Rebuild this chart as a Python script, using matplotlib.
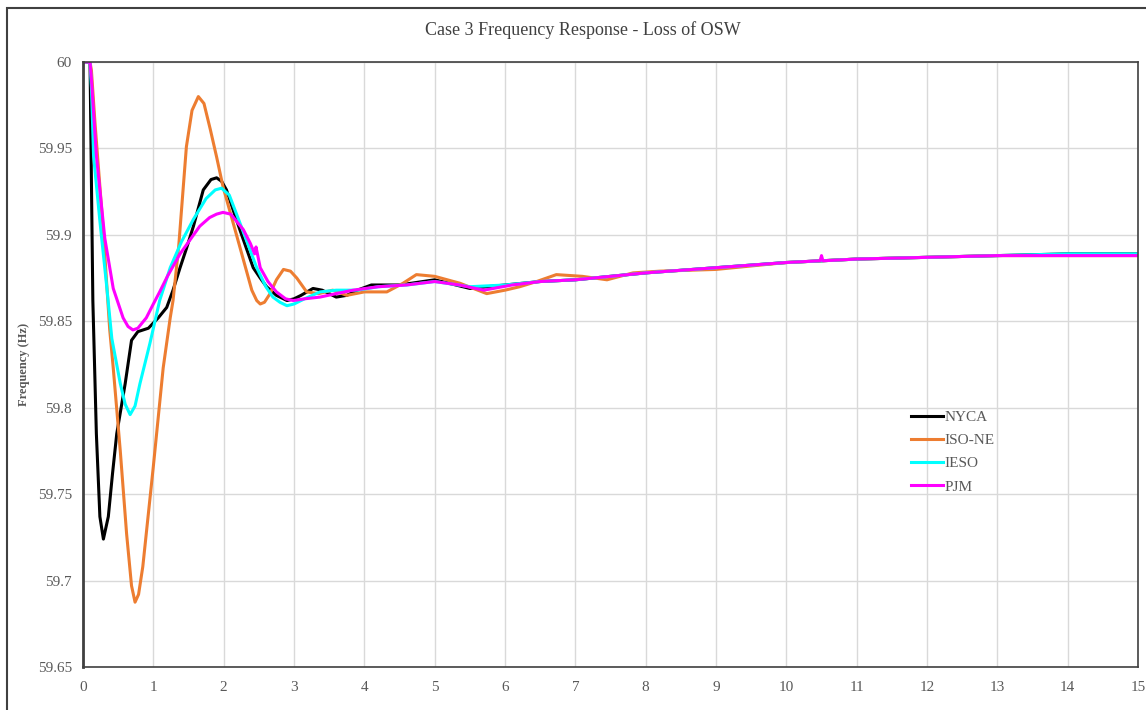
import numpy as np
import matplotlib
matplotlib.use("Agg")
import matplotlib.pyplot as plt
from matplotlib.patches import Rectangle

plt.rcParams['font.family'] = ['Liberation Serif', 'DejaVu Serif']

# values (time in s, frequency in Hz)
t_nyca = [0, 0.1, 0.12, 0.14, 0.19, 0.24, 0.29, 0.36, 0.42, 0.48, 0.6, 0.69, 0.78, 0.93, 1.07, 1.19,
          1.28, 1.38, 1.47, 1.57, 1.71, 1.82, 1.9, 1.97, 2.04, 2.13, 2.23, 2.42, 2.52, 2.61, 2.75, 2.9,
          3.0, 3.1, 3.27, 3.4, 3.6, 3.75, 3.9, 4.1, 4.5, 5.0, 5.5, 6.0, 6.5, 7.0, 8.0, 9.0, 10.0, 11.0,
          12.0, 13.0, 14.0, 15.0]
f_nyca = [60, 60, 59.93, 59.862, 59.785, 59.737, 59.724, 59.737, 59.762, 59.785, 59.814, 59.839,
          59.844, 59.846, 59.852, 59.858, 59.868, 59.881, 59.892, 59.905, 59.926, 59.932, 59.933,
          59.931, 59.926, 59.915, 59.903, 59.881, 59.875, 59.87, 59.865, 59.862, 59.863, 59.865,
          59.869, 59.868, 59.864, 59.865, 59.868, 59.871, 59.871, 59.874, 59.869, 59.871, 59.873,
          59.874, 59.878, 59.881, 59.884, 59.886, 59.887, 59.888, 59.889, 59.889]

t_isone = [0, 0.1, 0.12, 0.17, 0.28, 0.38, 0.43, 0.53, 0.62, 0.69, 0.74, 0.79, 0.85, 1.0, 1.14, 1.24,
           1.28, 1.36, 1.47, 1.55, 1.64, 1.72, 1.81, 1.9, 1.99, 2.1, 2.23, 2.4, 2.47, 2.52, 2.58, 2.66,
           2.75, 2.85, 2.95, 3.04, 3.18, 3.35, 3.55, 3.75, 4.0, 4.32, 4.55, 4.74, 5.0, 5.36, 5.74, 6.0,
           6.21, 6.45, 6.73, 7.1, 7.45, 7.82, 8.2, 9.0, 10.0, 11.0, 12.0, 13.0, 14.0, 15.0]
f_isone = [60, 60, 59.995, 59.965, 59.907, 59.845, 59.823, 59.775, 59.727, 59.697, 59.6875, 59.692,
           59.708, 59.766, 59.823, 59.852, 59.862, 59.893, 59.951, 59.972, 59.98, 59.976, 59.961,
           59.945, 59.928, 59.912, 59.893, 59.868, 59.862, 59.86, 59.861, 59.866, 59.874, 59.88,
           59.879, 59.875, 59.867, 59.866, 59.868, 59.865, 59.867, 59.867, 59.872, 59.877, 59.876,
           59.872, 59.866, 59.868, 59.87, 59.873, 59.877, 59.876, 59.874, 59.878, 59.879, 59.88,
           59.884, 59.886, 59.887, 59.888, 59.888, 59.888]

t_ieso = [0, 0.1, 0.12, 0.15, 0.24, 0.34, 0.41, 0.53, 0.6, 0.67, 0.74, 0.81, 0.95, 1.09, 1.24, 1.4,
          1.57, 1.75, 1.88, 1.97, 2.08, 2.23, 2.35, 2.47, 2.6, 2.7, 2.8, 2.9, 3.0, 3.15, 3.37, 3.6,
          3.9, 4.2, 4.6, 5.0, 5.5, 6.0, 6.5, 7.0, 8.0, 9.0, 10.0, 11.0, 12.0, 13.0, 14.0, 15.0]
f_ieso = [60, 60, 59.985, 59.946, 59.908, 59.869, 59.84, 59.814, 59.802, 59.796, 59.801, 59.814,
          59.837, 59.862, 59.881, 59.896, 59.909, 59.921, 59.926, 59.927, 59.923, 59.907, 59.894,
          59.881, 59.87, 59.864, 59.861, 59.859, 59.86, 59.863, 59.867, 59.868, 59.868, 59.87,
          59.871, 59.873, 59.87, 59.871, 59.873, 59.874, 59.878, 59.881, 59.884, 59.886, 59.887,
          59.888, 59.889, 59.889]

t_pjm = [0, 0.1, 0.12, 0.19, 0.31, 0.43, 0.57, 0.64, 0.71, 0.78, 0.9, 1.0, 1.09, 1.2, 1.38, 1.52,
         1.66, 1.8, 1.9, 1.99, 2.1, 2.28, 2.38, 2.44, 2.46, 2.52, 2.63, 2.75, 2.88, 2.99, 3.15, 3.37,
         3.6, 3.84, 4.2, 4.6, 5.0, 5.35, 5.7, 6.1, 6.5, 7.0, 8.0, 9.0, 10.0, 10.48, 10.5, 10.52, 11.0,
         12.0, 13.0, 14.0, 15.0]
f_pjm = [60, 60, 59.99, 59.946, 59.898, 59.869, 59.852, 59.847, 59.845, 59.846, 59.852, 59.86,
         59.867, 59.876, 59.889, 59.897, 59.905, 59.91, 59.912, 59.913, 59.912, 59.903, 59.895,
         59.889, 59.893, 59.881, 59.873, 59.867, 59.863, 59.862, 59.863, 59.864, 59.866, 59.868,
         59.87, 59.871, 59.873, 59.871, 59.868, 59.871, 59.873, 59.874, 59.878, 59.881, 59.884,
         59.885, 59.888, 59.885, 59.886, 59.887, 59.888, 59.888, 59.888]

y_ticks = [59.65, 59.7, 59.75, 59.8, 59.85, 59.9, 59.95, 60]
y_labels = ['59.65', '59.7', '59.75', '59.8', '59.85', '59.9', '59.95', '60']

gray = '#595959'

fig = plt.figure(figsize=(11.46, 7.10), dpi=100)
ax = fig.add_axes([83 / 1146, 43 / 710, 1055 / 1146, 605 / 710])

ax.plot(t_nyca, f_nyca, color='black', lw=2.2, label='NYCA')
ax.plot(t_isone, f_isone, color='#ED7D31', lw=2.2, label='ISO-NE')
ax.plot(t_ieso, f_ieso, color='#00FFFF', lw=2.2, label='IESO')
ax.plot(t_pjm, f_pjm, color='#FF00FF', lw=2.2, label='PJM')

ax.set_xlim(0, 15)
ax.set_ylim(59.65, 60)
ax.set_xticks(range(16))
ax.set_yticks(y_ticks)
ax.set_yticklabels(y_labels)
ax.grid(True, color='#d9d9d9', lw=1)
ax.set_axisbelow(True)
ax.tick_params(length=0, colors=gray, labelsize=11)
ax.tick_params(axis='y', pad=8)
ax.tick_params(axis='x', pad=10)
for s in ax.spines.values():
    s.set_color('#404040')
    s.set_linewidth(1.2)
ax.spines['left'].set_linewidth(2)

ax.set_ylabel('Frequency (Hz)', color=gray, fontsize=9, fontweight='bold')
ax.yaxis.set_label_coords(-0.05, 0.5)
fig.text(583 / 1146, 1 - 30 / 710, 'Case 3 Frequency Response - Loss of OSW', ha='center',
         va='center', fontsize=13, color='#404040')

leg = ax.legend(loc='upper left', bbox_to_anchor=(0.772, 0.447), frameon=False, fontsize=11,
                handlelength=2.1, handletextpad=0.05, labelspacing=0.62)
for txt in leg.get_texts():
    txt.set_color(gray)

fig.add_artist(Rectangle((7 / 1146, -0.01), 1.1, 1 - 8 / 710 + 0.01, transform=fig.transFigure,
                         fill=False, edgecolor='#404040', lw=1.5))

fig.savefig('out.png', dpi=100)
